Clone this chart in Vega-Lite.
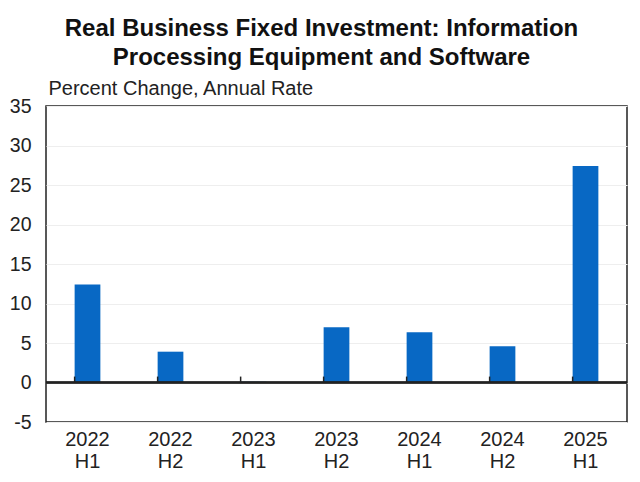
{
  "$schema": "https://vega.github.io/schema/vega-lite/v6.json",
  "width": 581,
  "height": 316,
  "autosize": {"type": "none"},
  "padding": {"left": 46, "top": 106, "right": 13, "bottom": 60},
  "background": "white",
  "title": {
    "text": ["Real Business Fixed Investment: Information", "Processing Equipment and Software"],
    "fontSize": 24,
    "fontWeight": "bold",
    "font": "Liberation Sans",
    "lineHeight": 29,
    "anchor": "middle",
    "offset": 8,
    "dx": -15,
    "color": "#111111"
  },
  "config": {
    "view": {"stroke": "#222222", "strokeWidth": 1.5},
    "font": "Liberation Sans",
    "axis": {"labelOverlap": false}
  },
  "data": {
    "values": [
      {"period": "2022 H1", "value": 12.4},
      {"period": "2022 H2", "value": 3.9},
      {"period": "2023 H1", "value": 0.1},
      {"period": "2023 H2", "value": 7.0},
      {"period": "2024 H1", "value": 6.35},
      {"period": "2024 H2", "value": 4.6},
      {"period": "2025 H1", "value": 27.4}
    ]
  },
  "layer": [
    {
      "mark": {"type": "bar", "color": "#0868c4"},
      "encoding": {
        "x": {
          "field": "period",
          "type": "nominal",
          "sort": null,
          "scale": {"paddingInner": 0.69, "paddingOuter": 0.345},
          "axis": {
            "title": null,
            "labelAngle": 0,
            "labelExpr": "split(datum.value, ' ')",
            "labelFontSize": 20,
            "labelLineHeight": 22,
            "labelColor": "#222222",
            "labelPadding": 7,
            "ticks": false,
            "tickSize": 0,
            "domain": false,
            "grid": false
          }
        },
        "y": {
          "field": "value",
          "type": "quantitative",
          "scale": {"domain": [-5, 35], "nice": false},
          "axis": {
            "values": [-5, 0, 5, 10, 15, 20, 25, 30, 35],
            "tickCount": 20,
            "labelExpr": "replace(datum.label, '\u2212', '-')",
            "labelOverlap": false,
            "title": "Percent Change, Annual Rate",
            "titleAngle": 0,
            "titleAlign": "left",
            "titleBaseline": "alphabetic",
            "titleX": 2,
            "titleY": -12,
            "titleFontSize": 20,
            "titleFontWeight": "normal",
            "titleColor": "#222222",
            "labelFontSize": 19.5,
            "labelColor": "#222222",
            "labelPadding": 15,
            "ticks": false,
            "tickSize": 0,
            "domain": false,
            "grid": true,
            "gridColor": "#eeeeee",
            "gridWidth": 1
          }
        }
      }
    },
    {
      "mark": {"type": "rule", "color": "#222222", "strokeWidth": 1.5},
      "encoding": {"y": {"datum": 0}}
    },
    {
      "mark": {"type": "rule", "color": "#222222", "strokeWidth": 1.5},
      "encoding": {
        "x": {"field": "period", "type": "nominal", "sort": null, "bandPosition": 0},
        "y": {"datum": 0},
        "y2": {"datum": 0.75}
      }
    }
  ]
}
